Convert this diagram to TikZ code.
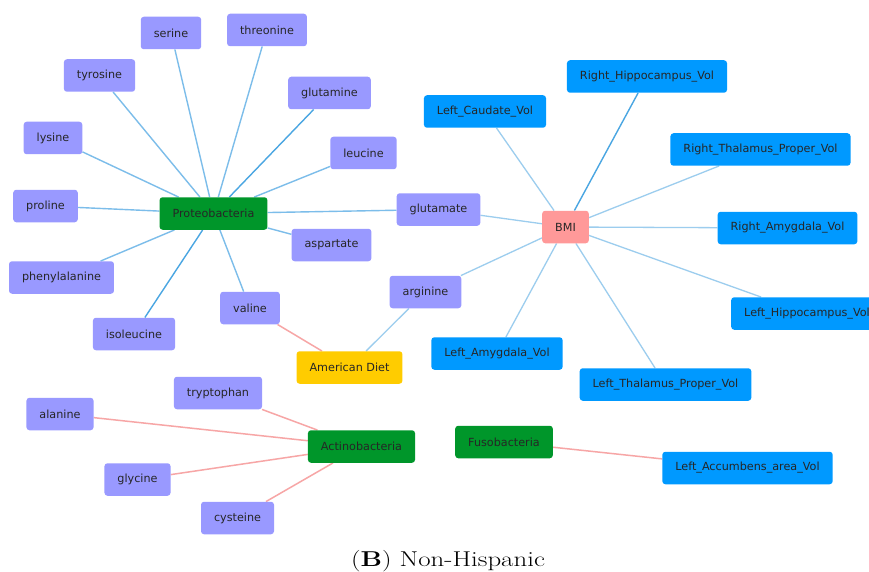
\documentclass[tikz,border=0pt]{standalone}
\usepackage{fontspec}
\usepackage{graphicx}
\setsansfont{DejaVu Sans}
\usetikzlibrary{backgrounds}

\definecolor{aminofill}{HTML}{9999FF}
\definecolor{phylumfill}{HTML}{00962A}
\definecolor{regionfill}{HTML}{0099FF}
\definecolor{bmifill}{HTML}{FF9999}
\definecolor{dietfill}{HTML}{FFCC00}
\definecolor{bluelink}{HTML}{7CBDEA}
\definecolor{darklink}{HTML}{4AA6E2}
\definecolor{palelink}{HTML}{9CCDEE}
\definecolor{pinklink}{HTML}{F7A6A6}

\tikzset{
	box/.style={rectangle, rounded corners=3pt, minimum height=32.5pt, inner xsep=13pt,
		text=black!85, font=\sffamily\fontsize{11.2}{13}\selectfont},
	amino/.style={box, fill=aminofill},
	phylum/.style={box, fill=phylumfill},
	region/.style={box, fill=regionfill},
	bmibox/.style={box, fill=bmifill},
	dietbox/.style={box, fill=dietfill},
	blue link/.style={draw=bluelink, line width=1.4pt},
	dark link/.style={draw=darklink, line width=1.4pt},
	pale link/.style={draw=palelink, line width=1.3pt},
	pink link/.style={draw=pinklink, line width=1.5pt}
}

\begin{document}
\begin{tikzpicture}[x=1pt, y=-1pt]
				\clip (0,0) rectangle (869,572);

				% Proteobacteria
				\node[phylum] (proteo) at (213.5,213.5) {Proteobacteria};
				\node[amino] (serine) at (171,33) {serine};
				\node[amino] (threonine) at (267,30) {threonine};
				\node[amino] (tyrosine) at (99.5,75.5) {tyrosine};
				\node[amino] (glutamine) at (329.5,93) {glutamine};
				\node[amino] (lysine) at (53,138) {lysine};
				\node[amino] (leucine) at (363.5,153) {leucine};
				\node[amino] (proline) at (45.5,206) {proline};
				\node[amino] (aspartate) at (331.5,245) {aspartate};
				\node[amino] (phenyl) at (61.5,277.5) {phenylalanine};
				\node[amino] (isoleucine) at (134,334) {isoleucine};
				\node[amino] (valine) at (250,308) {valine};
				\node[amino] (glutamate) at (438.5,209.5) {glutamate};

				% BMI
				\node[bmibox] (bmi) at (565.5,227) {BMI};
				\node[region] (lcaudate) at (485,111.5) {Left\_Caudate\_Vol};
				\node[region] (rhippo) at (647,76.5) {Right\_Hippocampus\_Vol};
				\node[region] (rthal) at (760.5,149.5) {Right\_Thalamus\_Proper\_Vol};
				\node[region] (ramyg) at (787.5,228) {Right\_Amygdala\_Vol};
				\node[region] (lhippo) at (807,313.5) {Left\_Hippocampus\_Vol};
				\node[region] (lthal) at (665.5,384.5) {Left\_Thalamus\_Proper\_Vol};
				\node[region] (lamyg) at (497,353.5) {Left\_Amygdala\_Vol};
				\node[amino] (arginine) at (425.5,292) {arginine};

				% American Diet
				\node[dietbox] (diet) at (349.5,367.5) {American Diet};

				% Actinobacteria
				\node[phylum] (actino) at (361.5,446.5) {Actinobacteria};
				\node[amino] (tryptophan) at (218,393) {tryptophan};
				\node[amino] (alanine) at (60,414) {alanine};
				\node[amino] (glycine) at (137.5,479.5) {glycine};
				\node[amino] (cysteine) at (237.5,518) {cysteine};

				% Fusobacteria
				\node[phylum] (fuso) at (504,442) {Fusobacteria};
				\node[region] (laccumb) at (747.5,468) {Left\_Accumbens\_area\_Vol};

				% caption
				\node (caption) at (448,561) {\scalebox{1.25}[1]{\fontsize{21.5}{25}\selectfont(\textbf{B}) Non-Hispanic}};

				\begin{pgfonlayer}{background}
					\fill[white] (0,0) rectangle (869,572);
					% links
					\path[blue link] (proteo) -- (serine);
					\path[blue link] (proteo) -- (threonine);
					\path[blue link] (proteo) -- (tyrosine);
					\path[dark link] (proteo) -- (glutamine);
					\path[blue link] (proteo) -- (lysine);
					\path[blue link] (proteo) -- (leucine);
					\path[blue link] (proteo) -- (proline);
					\path[blue link] (proteo) -- (aspartate);
					\path[blue link] (proteo) -- (phenyl);
					\path[dark link] (proteo) -- (isoleucine);
					\path[blue link] (proteo) -- (valine);
					\path[blue link] (proteo) -- (glutamate);
					\path[pale link] (bmi) -- (glutamate);
					\path[pale link] (bmi) -- (lcaudate);
					\path[dark link] (bmi) -- (rhippo);
					\path[pale link] (bmi) -- (rthal);
					\path[pale link] (bmi) -- (ramyg);
					\path[pale link] (bmi) -- (lhippo);
					\path[pale link] (bmi) -- (lthal);
					\path[pale link] (bmi) -- (lamyg);
					\path[pale link] (bmi) -- (arginine);
					\path[pale link] (diet) -- (arginine);
					\path[pink link] (diet) -- (valine);
					\path[pink link] (actino) -- (tryptophan);
					\path[pink link] (actino) -- (alanine);
					\path[pink link] (actino) -- (glycine);
					\path[pink link] (actino) -- (cysteine);
					\path[pink link] (fuso) -- (laccumb);
				\end{pgfonlayer}
			\end{tikzpicture}
\end{document}
